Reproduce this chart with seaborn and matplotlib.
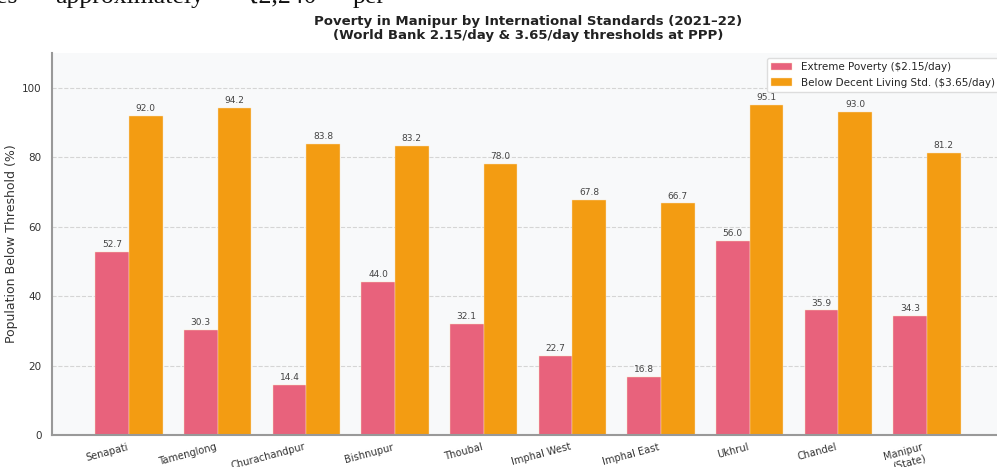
import matplotlib
matplotlib.use("Agg")
import matplotlib.pyplot as plt
import seaborn as sns
import pandas as pd

districts = ["Senapati", "Tamenglong", "Churachandpur", "Bishnupur", "Thoubal",
             "Imphal West", "Imphal East", "Ukhrul", "Chandel", "Manipur\n(State)"]
extreme = [52.7, 30.3, 14.4, 44.0, 32.1, 22.7, 16.8, 56.0, 35.9, 34.3]
decent = [92.0, 94.2, 83.8, 83.2, 78.0, 67.8, 66.7, 95.1, 93.0, 81.2]
series_names = ["Extreme Poverty ($2.15/day)", "Below Decent Living Std. ($3.65/day)"]
yticks = [0, 20, 40, 60, 80, 100]

df = pd.DataFrame({
    "District": districts * 2,
    "Value": extreme + decent,
    "Series": [series_names[0]] * len(districts) + [series_names[1]] * len(districts),
})

sns.set_theme(style="white")
plt.rcParams["font.family"] = ["DejaVu Sans"]

fig = plt.figure(figsize=(9.97, 4.67), dpi=100)
ax = fig.add_axes([0.052, 0.0685, 0.955, 0.818])
ax.set_facecolor("#f8f9fa")

palette = {series_names[0]: "#e8627c", series_names[1]: "#f39c12"}
sns.barplot(data=df, x="District", y="Value", hue="Series", palette=palette,
            width=0.76, gap=0, ax=ax, edgecolor="#fbe3c0", linewidth=0.3,
            saturation=1.0, legend=True)

for cont in ax.containers:
    ax.bar_label(cont, fmt="%.1f", padding=2, fontsize=6.5, color="#444444")

ax.set_ylim(0, 110)
ax.set_xlim(-0.87, 9.87)
ax.set_yticks(yticks)
ax.tick_params(axis="y", labelsize=7.5, colors="#333333", length=4, width=1, color="#999999")
ax.tick_params(axis="x", labelsize=7.1, colors="#333333", length=3, width=1, color="#999999", pad=2)
for lbl in ax.get_xticklabels():
    lbl.set_rotation(15)
    lbl.set_ha("right")
ax.set_xlabel("")
ax.set_ylabel("Population Below Threshold (%)", fontsize=9, color="#333333", labelpad=3)
ax.grid(axis="y", linestyle="--", color="#d5d5d5", linewidth=0.8)
ax.set_axisbelow(True)
for s in ["top", "right"]:
    ax.spines[s].set_visible(False)
for s in ["left", "bottom"]:
    ax.spines[s].set_color("#999999")
    ax.spines[s].set_linewidth(1.5)

leg = ax.legend(loc="upper right", fontsize=7.5, frameon=True, framealpha=1,
                edgecolor="#dddddd", borderaxespad=0.5)
leg.get_frame().set_facecolor("white")

ax.set_title("Poverty in Manipur by International Standards (2021–22)\n"
             "(World Bank 2.15/day & 3.65/day thresholds at PPP)",
             fontsize=9.5, fontweight="bold", color="#222222", pad=10, linespacing=1.1)

# clipped line of document text above the chart
serif = ["Liberation Serif", "DejaVu Serif", "DejaVu Sans"]
for xp, t in [(-0.004, "es"), (0.055, "approximately"), (0.244, "₹2,240"), (0.354, "per")]:
    fig.text(xp, 0.994, t, fontsize=18.5, family=serif, color="#111111", va="baseline")

fig.savefig("out.png", dpi=100)
